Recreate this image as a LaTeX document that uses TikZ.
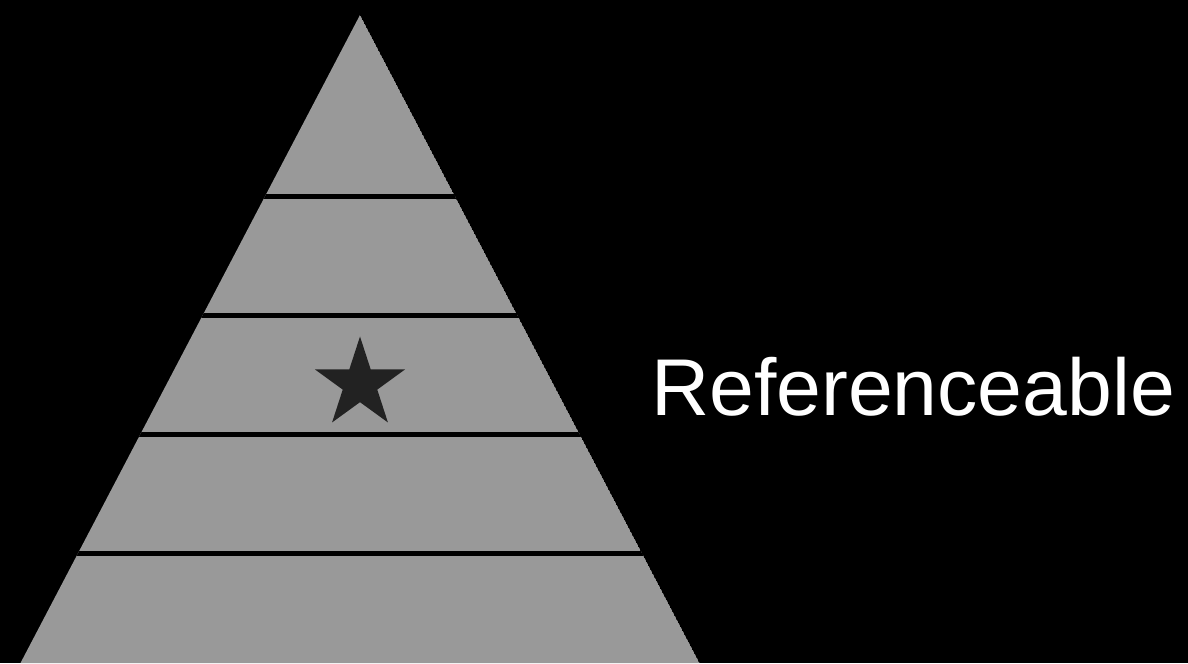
\documentclass[tikz,border=0pt]{standalone}
\usepackage{fontspec}
\setmainfont{Liberation Sans}
\usetikzlibrary{shapes.geometric}
\definecolor{layergray}{RGB}{153,153,153}
\definecolor{stardark}{RGB}{34,34,34}
\tikzset{
  pyrfill/.style={fill=layergray},
  layercut/.style={draw=black, line width=0.05cm},
  starmark/.style={star, star points=5, star point ratio=2.618,
    fill=stardark, draw=none, inner sep=0pt, minimum size=0.95cm},
  tierlabel/.style={text=white, font=\fontsize{22.9}{28}\selectfont,
    inner sep=0pt, anchor=base},
}

\begin{document}
\begin{tikzpicture}[x=0.01cm, y=-0.01cm]
  % Background
  \fill[black] (0,0) rectangle (1188,663);
  \useasboundingbox (0,0) rectangle (1188,663);
  % Pyramid
  \coordinate (apex)  at (360,15);
  \coordinate (baseL) at (20.5,663);
  \coordinate (baseR) at (699.5,663);
  \begin{scope}
    \clip (apex) -- (baseR) -- (baseL) -- cycle;
    \fill[pyrfill] (apex) -- (baseR) -- (baseL) -- cycle;
    % Layer cuts
    \foreach \y in {196.5,315,434.5,553}
      \draw[layercut] (0,\y) -- (720,\y);
  \end{scope}
  % Star in the middle layer
  \node[starmark] (star) at (360,384) {};
  % Label
  \node[tierlabel] (reflabel) at (913,415) {Referenceable};
\end{tikzpicture}
\end{document}
